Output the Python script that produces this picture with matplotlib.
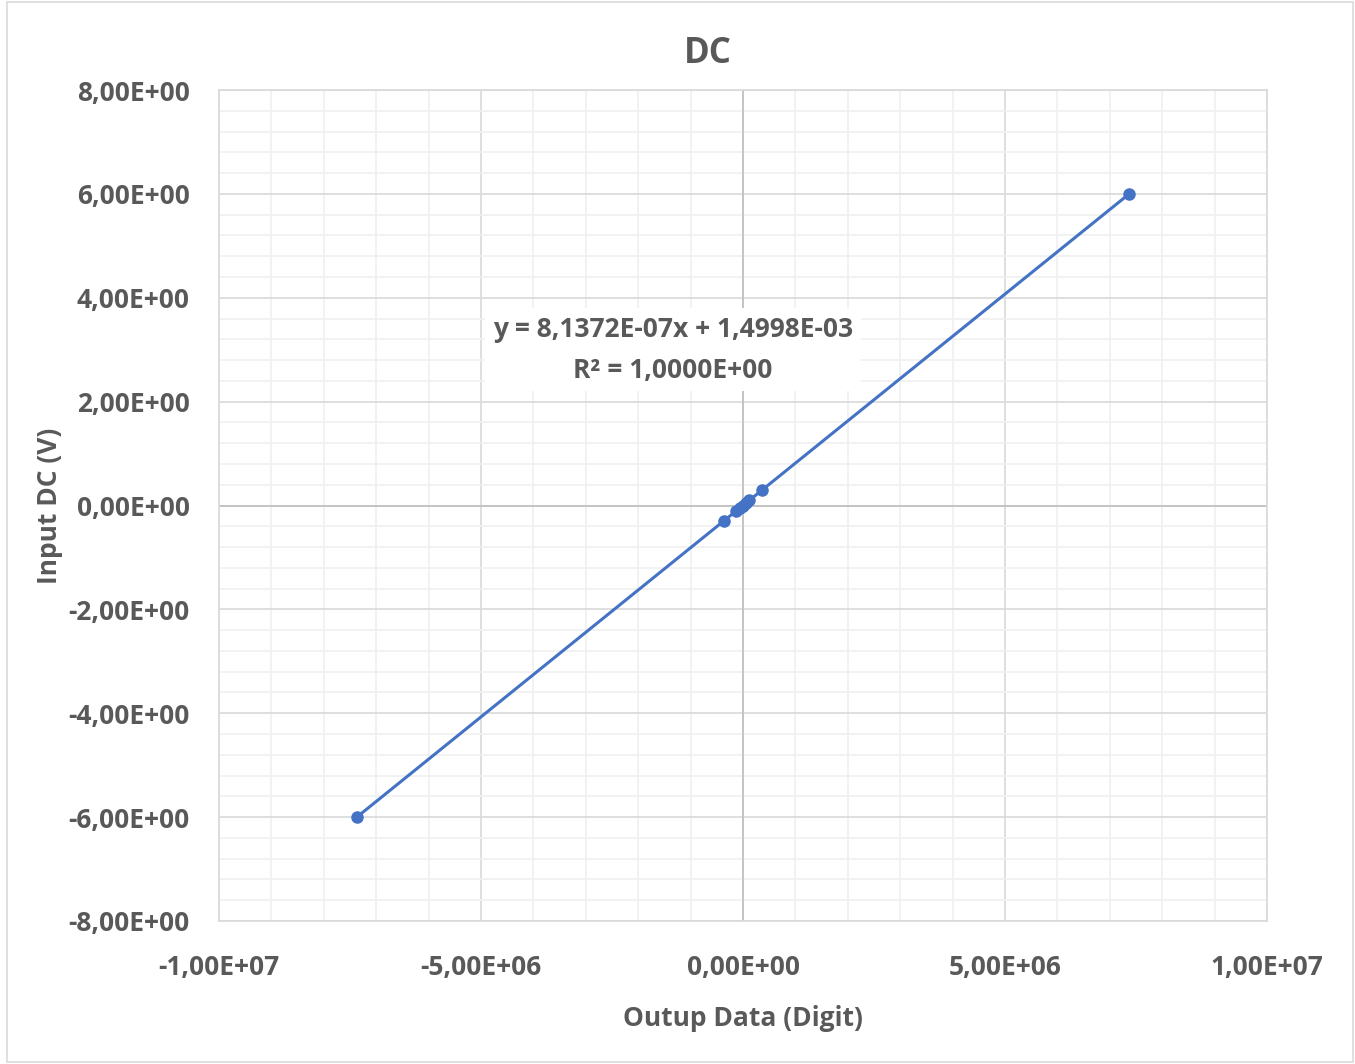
import matplotlib
matplotlib.use("Agg")
import matplotlib.pyplot as plt
from matplotlib.ticker import MultipleLocator, FuncFormatter
from matplotlib import font_manager as fm
import numpy as np

# ---- data ----
output_digits = [-7.37e6, -3.70e5, -1.25e5, -6.3e4, -1.8e3, 6.0e4, 1.22e5, 3.67e5, 7.37e6]
input_dc = [-6.0, -0.3, -0.1, -0.05, 0.0, 0.05, 0.1, 0.3, 6.0]
title = "DC"
xlabel = "Outup Data (Digit)"
ylabel = "Input DC (V)"
eq_text = "y = 8,1372E-07x + 1,4998E-03\nR² = 1,0000E+00"

names = {f.name for f in fm.fontManager.ttflist}
fam = "Liberation Sans Narrow" if "Liberation Sans Narrow" in names else "Open Sans"
plt.rcParams['font.family'] = [fam, 'DejaVu Sans']

txt = "#595959"
fig = plt.figure(figsize=(13.55, 10.64), dpi=100)
ax = fig.add_axes([219/1355, 1 - 921/1064, (1267-219)/1355, (921-90)/1064])

ax.plot(output_digits, input_dc, color="#4472C4", lw=2.2, marker="o", ms=8, zorder=3)

ax.set_xlim(-1e7, 1e7)
ax.set_ylim(-8, 8)
ax.xaxis.set_major_locator(MultipleLocator(5e6))
ax.xaxis.set_minor_locator(MultipleLocator(1e6))
ax.yaxis.set_major_locator(MultipleLocator(2))
ax.yaxis.set_minor_locator(MultipleLocator(0.4))

def sci(v, pos):
    return f"{v:.2E}".replace(".", ",")
ax.xaxis.set_major_formatter(FuncFormatter(sci))
ax.yaxis.set_major_formatter(FuncFormatter(sci))

ax.grid(which="major", color="#d9d9d9", lw=1.2)
ax.grid(which="minor", color="#f0f0f0", lw=1.2)
ax.set_axisbelow(True)
for s in ax.spines.values():
    s.set_color("#d9d9d9")
    s.set_linewidth(1.2)
ax.tick_params(which="both", length=0)
ax.tick_params(axis="x", pad=24, labelsize=19, labelcolor=txt)
ax.tick_params(axis="y", pad=21, labelsize=19, labelcolor=txt)
for lab in ax.get_xticklabels() + ax.get_yticklabels():
    lab.set_fontweight("bold")

ax.axvline(0, color="#bfbfbf", lw=1.2, zorder=1)
ax.axhline(0, color="#bfbfbf", lw=1.2, zorder=1)

fig.text(708/1355, 1 - 54/1064, title, ha="center", va="center", fontsize=25,
         color=txt, fontweight="bold")
fig.text(743/1355, 1 - 1018/1064, xlabel, ha="center", va="center", fontsize=19,
         color=txt, fontweight="bold")
fig.text(50/1355, 1 - 506/1064, ylabel, ha="center", va="center", rotation=90,
         fontsize=19, color=txt, fontweight="bold")

ax.text(-1.34e6, 3.0, eq_text, ha="center", va="center", fontsize=19, color=txt,
        fontweight="bold", linespacing=1.65,
        bbox=dict(boxstyle="square,pad=0.3", fc="white", ec="none"), zorder=4)

fig.patches.append(plt.Rectangle((7/1355, 0.002), 1 - 9/1355, 1 - 0.004,
                                 transform=fig.transFigure, fill=False,
                                 ec="#d9d9d9", lw=1.2))
fig.savefig("out.png", dpi=100)
